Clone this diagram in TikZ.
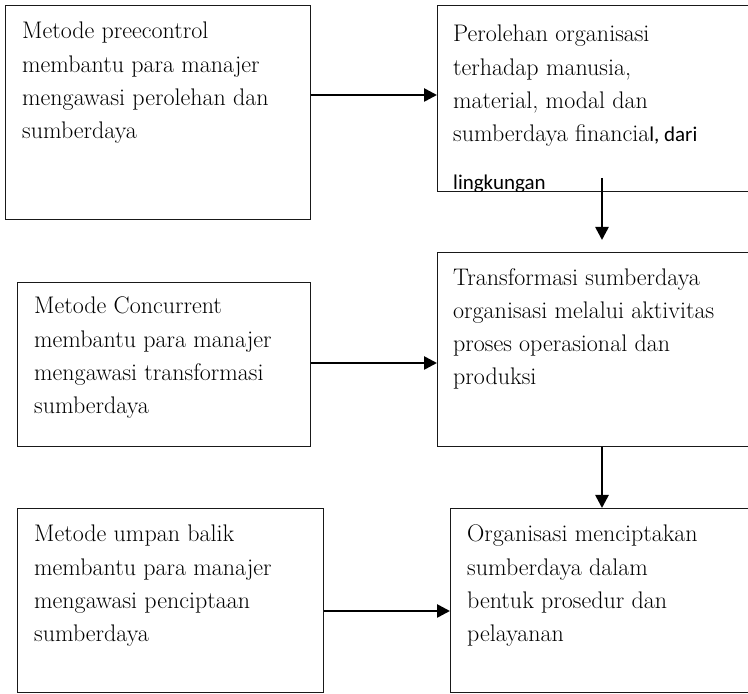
\documentclass[tikz,border=0pt]{standalone}
\usepackage{fontspec}
\newfontfamily\calibri{Carlito}
\usetikzlibrary{calc,arrows.meta}

\tikzset{
	box/.style={draw=black!90, line width=0.9pt, anchor=north west, inner sep=0pt},
	txt/.style={anchor=north west, inner sep=0pt, align=left, font=\fontsize{24}{33.3}\selectfont},
	arr/.style={line width=2.6pt, -{Triangle[length=13pt,width=13pt]}}
}

\begin{document}
\begin{tikzpicture}[x=1pt,y=1pt]
		%%%%% START %%%%%
		\useasboundingbox (0,0) rectangle (748,694);
		\clip (0,0) rectangle (748,694);
		
		\node[box, minimum width=305pt, minimum height=214pt] (b1) at (5,689) {};
		\node[box, minimum width=323pt, minimum height=186pt] (b2) at (437,689) {};
		\node[box, minimum width=293pt, minimum height=164pt] (b3) at (17,412) {};
		\node[box, minimum width=323pt, minimum height=194pt] (b4) at (437,442) {};
		\node[box, minimum width=306pt, minimum height=184pt] (b5) at (17,186) {};
		\node[box, minimum width=310pt, minimum height=184pt] (b6) at (450,186) {};
		
		\node[txt] (t1) at ([shift={(17pt,-17pt)}]b1.north west) {Metode preecontrol\\membantu para manajer\\mengawasi perolehan dan\\sumberdaya};
		\begin{scope}
			\clip (b2.south west) rectangle (b2.north east);
			\node[txt] (t2) at ([shift={(16pt,-20pt)}]b2.north west) {Perolehan organisasi\\terhadap manusia,\\material, modal dan\\sumberdaya financia{\calibri\fontsize{21}{26}\selectfont l, dari}\\[14pt]{\calibri\fontsize{21}{26}\selectfont lingkungan}};
		\end{scope}
		
		\node[txt] (t3) at ([shift={(17pt,-15pt)}]b3.north west) {Metode Concurrent\\membantu para manajer\\mengawasi transformasi\\sumberdaya};
		\node[txt] (t4) at ([shift={(16pt,-16pt)}]b4.north west) {Transformasi sumberdaya\\organisasi melalui aktivitas\\proses operasional dan\\produksi};
		
		\node[txt] (t5) at ([shift={(17pt,-17pt)}]b5.north west) {Metode umpan balik\\membantu para manajer\\mengawasi penciptaan\\sumberdaya};
		\node[txt] (t6) at ([shift={(17pt,-17pt)}]b6.north west) {Organisasi menciptakan\\sumberdaya dalam\\bentuk prosedur dan\\pelayanan};
		
		\coordinate (a1) at ([yshift=-90pt]b1.north east);
		\draw[arr] (a1) -- (a1 -| b2.west);
		\coordinate (a2) at ([xshift=165pt,yshift=14pt]b2.south west);
		\draw[arr] (a2) -- ($(a2 |- b4.north)+(0,12pt)$);
		
		\coordinate (a3) at ([yshift=-81pt]b3.north east);
		\draw[arr] (a3) -- (a3 -| b4.west);
		\draw[arr] (b4.south -| a2) -- (b6.north -| a2);
		
		\coordinate (a5) at ([yshift=-103pt]b5.north east);
		\draw[arr] (a5) -- (a5 -| b6.west);
		
		%%%%% END %%%%%
	\end{tikzpicture}
\end{document}
